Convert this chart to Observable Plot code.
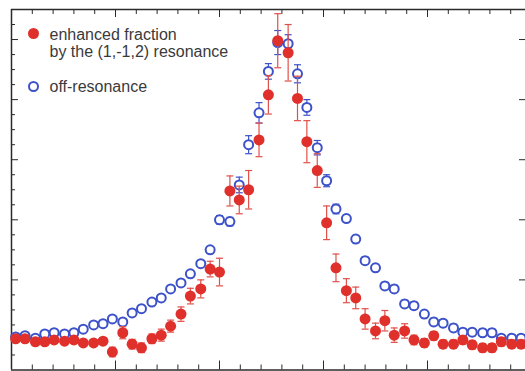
<!DOCTYPE html>
<html><head><meta charset="utf-8">
<script src="https://cdn.jsdelivr.net/npm/d3@7"></script>
<script src="https://cdn.jsdelivr.net/npm/@observablehq/plot@0.6"></script>
<style>html,body{margin:0;padding:0;background:#fff;overflow:hidden}</style>
</head><body><div id="chart"></div>
<script>
const xs = [0.04,0.13,0.23,0.32,0.41,0.51,0.60,0.69,0.79,0.88,0.97,1.07,1.16,1.25,1.35,1.44,1.53,1.63,1.72,1.82,1.91,2.00,2.10,2.19,2.28,2.38,2.47,2.56,2.66,2.75,2.84,2.94,3.03,3.12,3.22,3.31,3.40,3.50,3.59,3.68,3.78,3.87,3.97,4.06,4.15,4.25,4.34,4.43,4.53,4.62,4.71,4.81,4.90];
const enhanced = [1.02,1.02,0.97,0.97,1.00,0.98,1.00,0.95,0.95,0.98, 0.80,1.12,0.93,0.87,1.02,1.08,1.23,1.43,1.73,1.85, 2.18,2.13,3.48,3.33,3.50,4.33,5.08,5.98,5.78,5.02, 4.30,3.82,2.95,2.20,1.82,1.70,1.35,1.15,1.32,1.08, 1.15,1.00,0.95,1.07,0.93,0.93,1.00,0.92,0.87,0.87, 0.97,0.93,0.93];
const enhancedErr = [0.05,0.05,0.05,0.05,0.05,0.05,0.05,0.05,0.05,0.05, 0.08,0.10,0.08,0.08,0.08,0.10,0.10,0.12,0.13,0.15, 0.13,0.23,0.25,0.23,0.32,0.28,0.32,0.45,0.47,0.37, 0.35,0.28,0.28,0.23,0.20,0.18,0.17,0.13,0.17,0.12, 0.12,0.08,0.07,0.07,0.07,0.07,0.07,0.07,0.07,0.07, 0.07,0.07,0.07];
const offRes = [1.05,1.07,1.03,1.10,1.12,1.10,1.12,1.18,1.25,1.27, 1.35,1.30,1.45,1.52,1.63,1.70,1.85,1.95,2.10,2.27, 2.50,3.00,2.97,3.58,4.25,4.78,5.47,5.95,5.93,5.43, 4.87,4.20,3.65,3.18,3.02,2.68,2.32,2.20,1.90,1.85, 1.60,1.57,1.43,1.30,1.28,1.20,1.13,1.13,1.12,1.12, 1.03,1.03,1.03];
const offResErr = [0.05,0.05,0.05,0.05,0.05,0.05,0.05,0.05,0.05,0.05, 0.05,0.05,0.05,0.05,0.05,0.05,0.05,0.05,0.05,0.05, 0.05,0.07,0.07,0.13,0.15,0.17,0.13,0.20,0.15,0.15, 0.13,0.12,0.10,0.08,0.06,0.06,0.06,0.06,0.06,0.06, 0.06,0.06,0.06,0.06,0.06,0.06,0.06,0.06,0.06,0.06, 0.06,0.06,0.06];
const xMajorTicks = [1,2,3,4];
const xMinorTicks = [0.2,0.4,0.6,0.8,1.2,1.4,1.6,1.8,2.2,2.4,2.6,2.8,3.2,3.4,3.6,3.8,4.2,4.4,4.6,4.8];
const yMajorTicks = [1,2,3,4,5,6];
const yMinorTicks = [0.75,1.25,1.5,1.75,2.25,2.5,2.75,3.25,3.5,3.75,4.25,4.5,4.75,5.25,5.5,5.75,6.25];
const legendLabels = ["enhanced fraction\nby the (1,-1,2) resonance", "off-resonance"];

const RED = "#e0302b", RED_BAR = "#e0504a", BLUE = "#3d52c9";
const enhData = xs.map((x, i) => ({x, y: enhanced[i], e: enhancedErr[i]}));
const offData = xs.map((x, i) => ({x, y: offRes[i], e: offResErr[i]}));
const cap = {draw(ctx, size) { const w = Math.sqrt(size / Math.PI); ctx.moveTo(-w, 0); ctx.lineTo(w, 0); }};

const W = 525, H = 371, mL = 11, mT = 9, mB = 1.5, mR = 0;
const fw = W - mL - mR, fh = H - mT - mB;
const AX = "#2a2a2a";

const errMarks = (data, color, width) => [
  Plot.ruleX(data, {x: "x", y1: d => d.y - d.e, y2: d => d.y + d.e, stroke: color, strokeWidth: width}),
  Plot.dot(data, {x: "x", y: d => d.y + d.e, symbol: cap, r: 3.5, stroke: color, strokeWidth: width, fill: "none"}),
  Plot.dot(data, {x: "x", y: d => d.y - d.e, symbol: cap, r: 3.5, stroke: color, strokeWidth: width, fill: "none"})
];

const chart = Plot.plot({
  width: W, height: H,
  marginLeft: mL, marginTop: mT, marginBottom: mB, marginRight: mR,
  style: {fontFamily: "'Liberation Sans', Arial, sans-serif", background: "#fff", overflow: "hidden"},
  x: {domain: [0, 5], range: [mL, 531], axis: null},
  y: {domain: [0.5, 6.5], range: [H - mB, mT], axis: null},
  marks: [
    Plot.tickX(xMinorTicks, {x: d => d, insetBottom: fh - 5, stroke: AX}),
    Plot.tickX(xMajorTicks, {x: d => d, insetBottom: fh - 8, stroke: AX}),
    Plot.tickX(xMinorTicks, {x: d => d, insetTop: fh - 5, stroke: AX}),
    Plot.tickX(xMajorTicks, {x: d => d, insetTop: fh - 9, stroke: AX}),
    Plot.tickY(yMinorTicks, {y: d => d, insetRight: fw - 4, stroke: AX}),
    Plot.tickY(yMajorTicks, {y: d => d, insetRight: fw - 7, stroke: AX}),
    Plot.tickY(yMajorTicks, {y: d => d, insetLeft: fw - 6, stroke: AX}),
    Plot.ruleY([6.5], {stroke: AX, strokeWidth: 1.5}),
    Plot.ruleY([0.5], {stroke: AX, strokeWidth: 1.5}),
    Plot.ruleX([0], {stroke: AX, strokeWidth: 1.5}),
    ...errMarks(offData, BLUE, 1.2),
    Plot.dot(offData, {x: "x", y: "y", r: 4.5, stroke: BLUE, strokeWidth: 2, fill: "white"}),
    ...errMarks(enhData, RED_BAR, 1.2),
    Plot.dot(enhData, {x: "x", y: "y", r: 5.5, fill: RED, stroke: "none"}),
    Plot.dot([legendLabels[0]], {frameAnchor: "top-left", dx: 22, dy: 24, r: 5.5, fill: RED}),
    Plot.text([legendLabels[0]], {frameAnchor: "top-left", dx: 38, dy: 33.5, text: d => d, textAnchor: "start", lineAnchor: "middle", lineHeight: 1.07, fontSize: 16, fill: "#3a3a3a"}),
    Plot.dot([legendLabels[1]], {frameAnchor: "top-left", dx: 22, dy: 77, r: 4.5, stroke: BLUE, strokeWidth: 2, fill: "white"}),
    Plot.text([legendLabels[1]], {frameAnchor: "top-left", dx: 38, dy: 77, text: d => d, textAnchor: "start", lineAnchor: "middle", fontSize: 16, fill: "#3a3a3a"})
  ]
});
document.getElementById("chart").appendChild(chart);
</script>
</body></html>
